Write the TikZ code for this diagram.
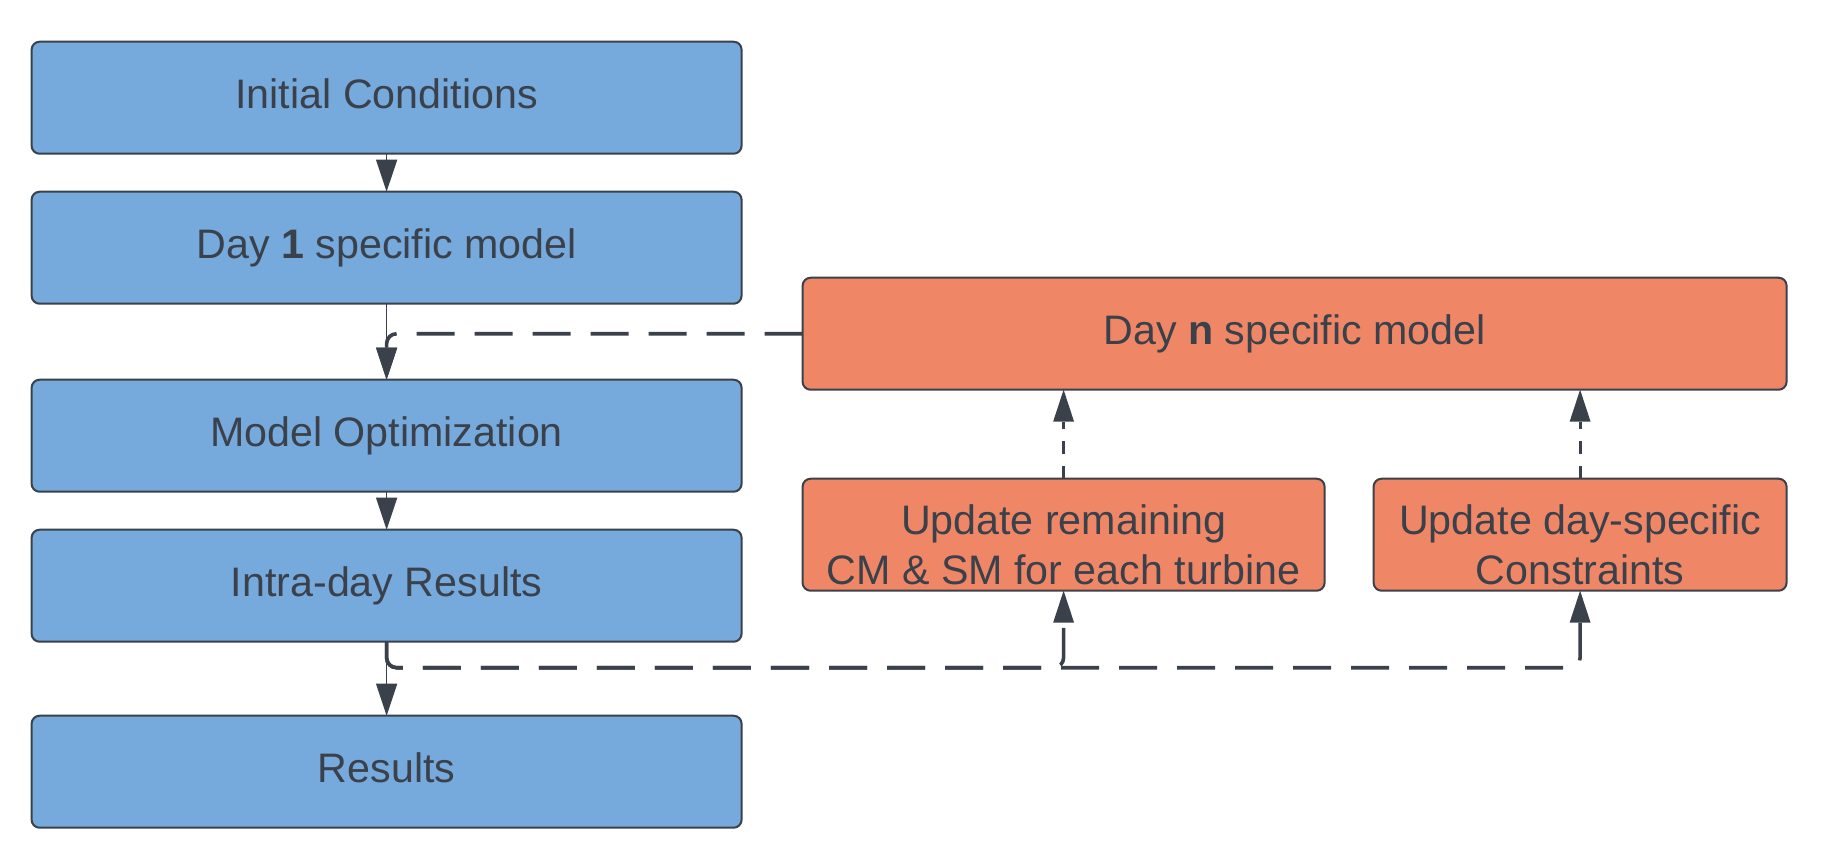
\documentclass[tikz,border=0pt]{standalone}
\usepackage{fontspec}
\setmainfont{Liberation Sans}
\usetikzlibrary{arrows.meta,positioning}
\definecolor{boxblue}{HTML}{76A9DC}
\definecolor{boxorange}{HTML}{EF8767}
\definecolor{inkgray}{HTML}{3A414A}
\tikzset{
  block/.style={draw=inkgray, line width=1pt, rounded corners=4pt, minimum width=355pt, minimum height=56pt, inner sep=0pt, outer sep=0pt, text=inkgray, font=\fontsize{20.6}{25}\selectfont, align=center},
  oneline/.style={text height=15.5pt, text depth=5pt},
  twoline/.style={text height=50pt, text depth=0pt},
  daybox/.style={block, oneline, fill=boxblue},
  updbox/.style={block, fill=boxorange},
  flow/.style={draw=inkgray, line width=0.6pt, -{Triangle[length=16pt,width=10.5pt]}},
  feedback/.style={draw=inkgray, line width=1.8pt, dash pattern=on 19pt off 10pt, rounded corners=5pt, -{Triangle[length=16pt,width=10.5pt,line width=0pt]}},
  climb/.style={draw=inkgray, line width=1.6pt, dash pattern=on 6.5pt off 6pt, -{Triangle[length=16pt,width=10.5pt,line width=0pt]}}
}
\begin{document}
\begin{tikzpicture}
\useasboundingbox (0,0) rectangle (913pt,-432pt);
\node[daybox] (init) at (193.3pt,-48.85pt) {Initial Conditions};
\node[daybox, below=19pt of init] (day1) {Day \textbf{1} specific model};
\node[daybox, below=38pt of day1] (opt) {Model Optimization};
\node[daybox, below=19pt of opt] (intra) {Intra-day Results};
\node[daybox, below=37pt of intra] (res) {Results};
\node[updbox, oneline, minimum width=492pt] (dayn) at (647.3pt,-166.85pt) {Day \textbf{n} specific model};
\node[updbox, twoline, minimum width=261pt, below=44.5pt of dayn.south west, anchor=north west] (rem) {Update remaining\\CM \& SM for each turbine};
\node[updbox, twoline, minimum width=206.5pt, below=44.5pt of dayn.south east, anchor=north east] (cons) {Update day-specific\\Constraints};
\coordinate[below=13pt of intra.south] (bus);
\draw[flow] (init) -- (day1);
\draw[flow] (day1) -- (opt);
\draw[flow] (opt) -- (intra);
\draw[flow] (intra) -- (res);
\draw[feedback] (dayn.west) -| (opt.north);
\draw[feedback] (intra.south) -- (bus) -| (cons.south);
\draw[feedback] (intra.south) -- (bus) -| (rem.south);
\draw[climb] (rem.north) -- (rem.north |- dayn.south);
\draw[climb] (cons.north) -- (cons.north |- dayn.south);
\end{tikzpicture}
\end{document}
